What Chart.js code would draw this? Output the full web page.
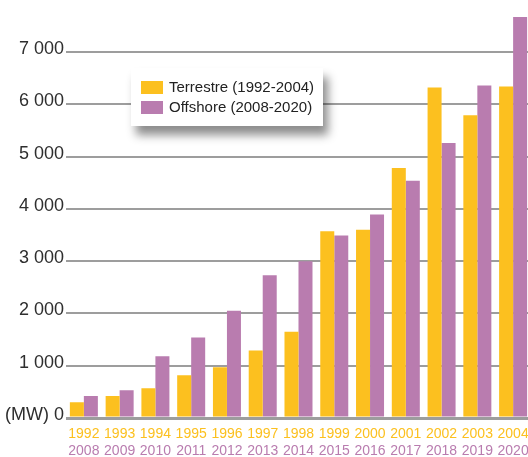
<!DOCTYPE html>
<html>
<head>
<meta charset="utf-8">
<script src="https://cdn.jsdelivr.net/npm/chart.js@4/dist/chart.umd.min.js"></script>
<style>
    html, body { margin: 0; padding: 0; background: #fff; overflow: hidden; }
    #wrap { position: relative; width: 540px; height: 457px; }
    #legend {
        position: absolute; left: 131px; top: 68px; width: 192px; height: 58px;
        background: #fff; box-shadow: 5px 9px 9px rgba(0, 0, 0, 0.45);
        font: 15px "Liberation Sans", Arial, sans-serif; color: #222;
    }
    #legend .item { position: absolute; left: 10px; height: 20px; line-height: 20px; white-space: nowrap; }
    #legend .swatch { display: inline-block; width: 22px; height: 13px; vertical-align: -2px; margin-right: 6px; }
</style>
</head>
<body>
<div id="wrap">
    <canvas id="chart" width="540" height="457"></canvas>
    <div id="legend"></div>
</div>
<script>
// Installed wind capacity, MW
const terrestreYears = ['1992', '1993', '1994', '1995', '1996', '1997', '1998', '1999', '2000', '2001', '2002', '2003', '2004'];
const offshoreYears = ['2008', '2009', '2010', '2011', '2012', '2013', '2014', '2015', '2016', '2017', '2018', '2019', '2020'];
const terrestreValues = [300, 420, 570, 820, 970, 1290, 1650, 3570, 3600, 4780, 6320, 5790, 6340];
const offshoreValues = [420, 530, 1180, 1540, 2050, 2730, 3000, 3490, 3890, 4540, 5260, 6360, 7670];
const yTickValues = [0, 1000, 2000, 3000, 4000, 5000, 6000, 7000];
const yTickLabels = ['(MW) 0', '1 000', '2 000', '3 000', '4 000', '5 000', '6 000', '7 000'];

const YELLOW = '#fcc01f';
const PURPLE = '#b97caf';
const GRID = '#9d9d9d';
const sans = '"Liberation Sans", Arial, sans-serif';

const ctx = document.getElementById('chart').getContext('2d');
const chart = new Chart(ctx, {
    type: 'bar',
    data: {
        labels: terrestreYears,
        datasets: [{
            label: 'Terrestre (1992-2004)',
            data: terrestreValues,
            backgroundColor: YELLOW,
            xAxisID: 'x'
        }, {
            label: 'Offshore (2008-2020)',
            data: offshoreValues,
            backgroundColor: PURPLE,
            xAxisID: 'x'
        }]
    },
    options: {
        responsive: false,
        animation: false,
        layout: { padding: { left: 3, top: 9, right: 9, bottom: 0 } },
        datasets: {
            bar: { categoryPercentage: 0.783, barPercentage: 1 }
        },
        plugins: {
            legend: { display: false },
            tooltip: { enabled: false }
        },
        scales: {
            // first row of year labels (onshore); box height fixed so labels aren't clipped
            x: {
                type: 'category',
                labels: terrestreYears,
                position: 'bottom',
                grid: { display: false, drawTicks: false },
                border: { display: false },
                afterFit: (scale) => { scale.height = 24; },
                ticks: {
                    color: YELLOW,
                    padding: 9.5,
                    maxRotation: 0,
                    autoSkip: false,
                    font: { family: sans, size: 14, lineHeight: '13px' }
                }
            },
            // second row (offshore)
            x2: {
                type: 'category',
                labels: offshoreYears,
                position: 'bottom',
                grid: { display: false, drawTicks: false },
                border: { display: false },
                afterFit: (scale) => { scale.height = 15; },
                ticks: {
                    color: PURPLE,
                    padding: 2.5,
                    maxRotation: 0,
                    autoSkip: false,
                    font: { family: sans, size: 14, lineHeight: '13px' }
                }
            },
            y: {
                min: 0,
                max: 7750,
                grid: {
                    color: GRID,
                    drawTicks: false,
                    lineWidth: (c) => (c.tick && c.tick.value === 0 ? 3 : 2)
                },
                border: { display: false },
                afterBuildTicks: (scale) => {
                    scale.ticks = yTickValues.map(v => ({ value: v }));
                },
                ticks: {
                    color: '#2e2e2e',
                    padding: 2,
                    labelOffset: -3,
                    font: { family: sans, size: 18 },
                    callback: (value) => yTickLabels[yTickValues.indexOf(value)]
                }
            }
        }
    }
});

// Legend box over the plot
const legendEl = document.getElementById('legend');
chart.data.datasets.forEach((ds, i) => {
    const item = document.createElement('div');
    item.className = 'item';
    item.style.top = (9 + i * 20) + 'px';
    const sw = document.createElement('span');
    sw.className = 'swatch';
    sw.style.background = ds.backgroundColor;
    item.appendChild(sw);
    item.appendChild(document.createTextNode(ds.label));
    legendEl.appendChild(item);
});
</script>
</body>
</html>
